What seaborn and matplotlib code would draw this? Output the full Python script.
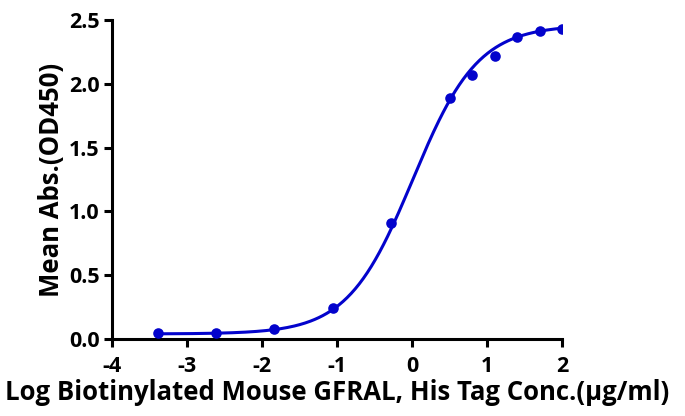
import numpy as np
import pandas as pd
import matplotlib
matplotlib.use('Agg')
import matplotlib.pyplot as plt
import seaborn as sns

# measured points
log_conc = [-3.39, -2.61, -1.84, -1.05, -0.28, 0.51, 0.80, 1.10, 1.40, 1.70, 2.00]
mean_abs = [0.05, 0.05, 0.08, 0.24, 0.91, 1.89, 2.07, 2.22, 2.37, 2.41, 2.43]

# 4PL fit parameters
fit_bottom = 0.04
fit_top = 2.46
fit_logec50 = 0.01
fit_hill = 1.0

x_ticks = [-4, -3, -2, -1, 0, 1, 2]
y_ticks = [0.0, 0.5, 1.0, 1.5, 2.0, 2.5]

blue = '#0303CC'

sns.set_style('ticks')
plt.rcParams['font.family'] = ['Open Sans', 'DejaVu Sans']
plt.rcParams['text.color'] = 'black'

pts = pd.DataFrame({'x': log_conc, 'y': mean_abs})
xs = np.linspace(min(log_conc), max(log_conc), 300)
curve = pd.DataFrame({
    'x': xs,
    'y': fit_bottom + (fit_top - fit_bottom) / (1 + 10 ** ((fit_logec50 - xs) * fit_hill)),
})

fig = plt.figure(figsize=(6.85, 4.16), dpi=100)
ax = fig.add_axes([0.1635, 0.185, 0.657, 0.767])

sns.lineplot(data=curve, x='x', y='y', color=blue, lw=2.2, ax=ax)
sns.scatterplot(data=pts, x='x', y='y', color=blue, s=58, edgecolor=blue, linewidth=0, ax=ax, zorder=3)

ax.set_xlim(-4, 2)
ax.set_ylim(0, 2.5)
ax.set_xticks(x_ticks)
ax.set_xticklabels([str(t) for t in x_ticks])
ax.set_yticks(y_ticks)
ax.set_yticklabels([f'{t:.1f}' for t in y_ticks])
ax.tick_params(width=2.2, length=6, labelsize=15.5, color='black', labelcolor='black')
ax.tick_params(axis='x', pad=6)
ax.tick_params(axis='y', pad=3)
for lab in ax.get_xticklabels() + ax.get_yticklabels():
    lab.set_fontweight('bold')
for s in ['left', 'bottom']:
    ax.spines[s].set_linewidth(2.2)
    ax.spines[s].set_color('black')
sns.despine(ax=ax)
for sp in ax.spines.values():
    sp.set_clip_on(False)

ax.set_xlabel('Log Biotinylated Mouse GFRAL, His Tag Conc.(μg/ml)', fontsize=18.5,
              fontweight='bold', color='black', labelpad=2)
ax.set_ylabel('Mean Abs.(OD450)', fontsize=18.5, fontweight='bold', color='black', labelpad=3)

fig.savefig('out.png', dpi=100)
